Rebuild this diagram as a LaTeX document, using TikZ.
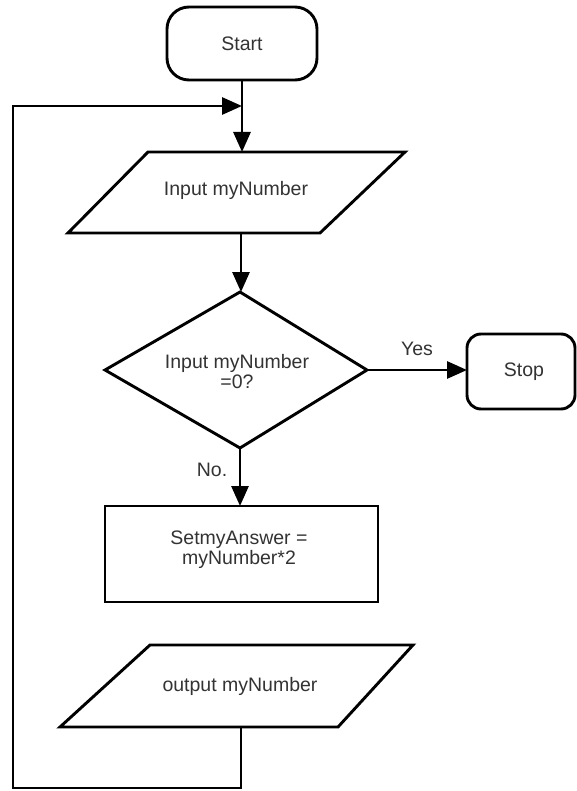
\documentclass[tikz,border=0pt]{standalone}
\usepackage{fontspec}
\setmainfont{Liberation Sans}
\usetikzlibrary{arrows.meta}

\begin{document}
\begin{tikzpicture}[x=1pt,y=-1pt,
  line width=2.9pt,
  shapeline/.style={draw=black,line join=miter},
  label/.style={text=black!80,font=\fontsize{19.5}{20}\selectfont,align=center,inner sep=0pt},
  flow/.style={draw=black,-{Triangle[length=20pt,width=17pt]}},
  plain/.style={draw=black}]
  \useasboundingbox (0,0) rectangle (577,791);

  % terminals
  \draw[shapeline,rounded corners=22pt] (167,7) rectangle (317,80);
  \node[label] (start) at (242,44) {Start};
  \coordinate (start-s) at (242,80);

  \draw[shapeline,rounded corners=14pt] (467,334) rectangle (575,409);
  \node[label] (stop) at (524,372) {Stop};
  \coordinate (stop-w) at (467,370);

  % input parallelogram
  \draw[shapeline] (148,152) -- (405,152) -- (320,233) -- (68,233) -- cycle;
  \node[label] (input) at (236,190) {Input myNumber};
  \coordinate (input-n) at (242,152);
  \coordinate (input-s) at (241,233);

  % decision
  \draw[shapeline] (240,292) -- (367,370) -- (240,448) -- (105,370) -- cycle;
  \node[label] (test) at (237,372) {Input myNumber\\=0?};
  \coordinate (test-n) at (241,292);
  \coordinate (test-e) at (367,370);
  \coordinate (test-s) at (240,448);

  % process
  \draw[shapeline] (105,506) rectangle (378,602);
  \node[label] (calc) at (239,550) {SetmyAnswer =\\myNumber*2};
  \coordinate (calc-n) at (240,506);

  % output parallelogram
  \draw[shapeline] (150,645) -- (413,645) -- (338,727) -- (60,727) -- cycle;
  \node[label] (output) at (240,686) {output myNumber};
  \coordinate (output-s) at (241,727);

  % loop back route
  \coordinate (join) at (242,106);
  \coordinate (loop-a) at (241,788);
  \coordinate (loop-b) at (13,788);
  \coordinate (loop-c) at (13,106);

  % connectors
  \draw[flow] (start-s) -- (input-n);
  \draw[flow] (input-s) -- (test-n);
  \draw[flow] (test-e) -- node[label,above=13pt] (yes) {Yes} (stop-w);
  \draw[flow] (test-s) -- (calc-n);
  \node[label] (no) at (212,470) {No.};
  \draw[flow,line join=miter] (output-s) -- (loop-a) -- (loop-b) -- (loop-c) -- (join);
\end{tikzpicture}
\end{document}
